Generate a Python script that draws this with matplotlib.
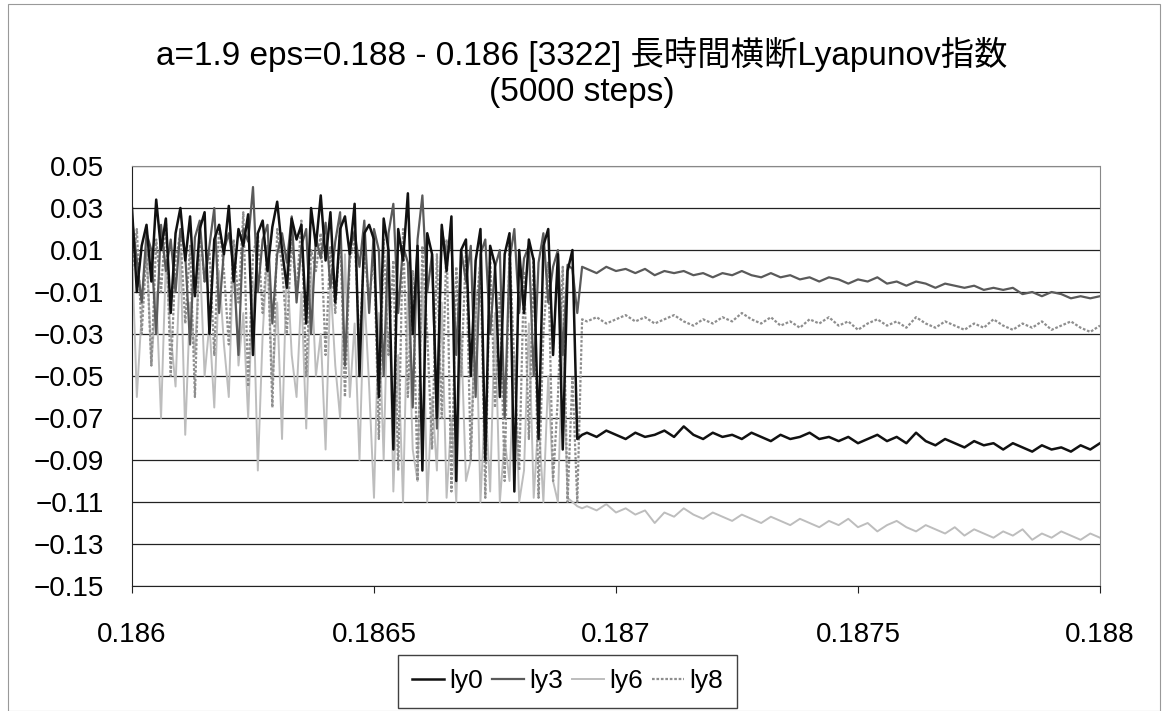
import matplotlib
matplotlib.use("Agg")
import matplotlib.pyplot as plt
import numpy as np

plt.rcParams['font.family'] = ['Liberation Sans', 'Noto Sans CJK JP', 'DejaVu Sans']

# eps range: chaotic part and settled part
eps_chaos = (0.18600, 0.18693)
eps_calm = (0.18694, 0.18800)

# --- chaotic part (0.18600 .. 0.18693) ---
ly0_chaos = [0.030, -0.010, 0.012, 0.022, -0.005, 0.034, 0.010, 0.025, -0.020, 0.018,
             0.030, 0.005, 0.026, -0.012, 0.020, 0.028, -0.030, 0.015, 0.022, 0.008,
             0.031, -0.005, 0.020, 0.012, 0.027, -0.040, 0.018, 0.024, 0.000, 0.021,
             0.033, 0.010, -0.008, 0.025, 0.015, 0.022, -0.025, 0.030, 0.012, 0.036,
             0.005, 0.028, -0.015, 0.020, 0.026, 0.008, 0.032, -0.050, 0.018, 0.022,
             0.015, -0.060, 0.025, 0.010, -0.085, 0.020, 0.005, 0.037, -0.030, 0.012,
             -0.095, 0.018, 0.008, -0.070, 0.022, 0.000, 0.026, -0.100, 0.010, 0.015,
             -0.050, 0.005, 0.020, -0.090, 0.012, 0.003, -0.060, 0.008, 0.018, -0.105,
             0.010, -0.020, 0.015, 0.005, -0.080, 0.012, 0.020, -0.040, 0.008, -0.085,
             0.000, 0.010, -0.080, -0.078]
ly3_chaos = [0.025, 0.005, -0.015, 0.018, 0.010, -0.030, 0.022, 0.000, 0.015, -0.010,
             0.020, 0.008, -0.035, 0.016, 0.024, -0.005, 0.012, 0.030, -0.020, 0.010,
             0.018, 0.002, -0.040, 0.020, 0.014, 0.040, -0.010, 0.015, 0.022, -0.025,
             0.008, 0.018, 0.004, 0.026, -0.015, 0.012, 0.020, -0.030, 0.016, 0.006,
             0.023, -0.008, 0.014, 0.028, -0.045, 0.010, 0.019, 0.002, 0.024, -0.020,
             0.020, 0.010, -0.050, 0.018, 0.032, -0.020, 0.012, 0.004, -0.065, 0.015,
             0.036, -0.010, 0.008, -0.075, 0.020, 0.006, 0.014, -0.040, 0.010, -0.005,
             0.012, -0.060, 0.008, 0.015, -0.030, 0.002, 0.010, -0.070, 0.005, 0.020,
             -0.020, 0.006, 0.012, -0.050, 0.004, 0.018, -0.015, 0.002, 0.010, -0.040,
             0.003, 0.001, -0.020, 0.002]
ly6_chaos = [0.010, -0.060, -0.020, 0.015, -0.045, -0.010, -0.070, 0.005, -0.030, -0.055,
             0.010, -0.078, -0.015, -0.040, 0.008, -0.050, -0.025, -0.065, 0.000, -0.035,
             -0.060, 0.012, -0.045, -0.020, -0.070, -0.005, -0.095, -0.030, 0.010, -0.055,
             -0.015, -0.080, 0.005, -0.040, -0.060, -0.010, -0.075, 0.002, -0.050, -0.030,
             -0.085, -0.005, -0.045, -0.070, 0.008, -0.060, -0.025, -0.090, -0.010, -0.055,
             -0.108, -0.020, -0.090, 0.005, -0.105, -0.040, -0.110, -0.010, -0.085, -0.100,
             0.000, -0.110, -0.060, -0.095, -0.015, -0.108, -0.070, -0.110, -0.030, -0.100,
             -0.090, -0.010, -0.110, -0.060, -0.105, -0.020, -0.110, -0.080, -0.100, -0.040,
             -0.110, -0.095, -0.025, -0.108, -0.070, -0.110, -0.050, -0.100, -0.110, -0.030,
             -0.108, -0.110, -0.112, -0.113]
ly8_chaos = [0.000, 0.020, -0.030, 0.010, -0.045, 0.015, -0.010, 0.025, -0.050, 0.005,
             0.018, -0.025, 0.012, -0.060, 0.020, -0.005, 0.010, -0.040, 0.022, 0.000,
             -0.035, 0.015, -0.015, 0.028, -0.055, 0.008, 0.018, -0.020, 0.012, -0.065,
             0.020, 0.002, -0.030, 0.015, -0.010, 0.024, -0.050, 0.010, 0.000, 0.018,
             -0.040, 0.012, -0.020, 0.020, -0.060, 0.005, 0.016, -0.035, 0.010, -0.015,
             0.010, -0.080, 0.015, -0.040, 0.005, -0.095, 0.020, -0.060, 0.000, -0.100,
             0.012, -0.030, -0.085, 0.008, -0.070, 0.015, -0.105, 0.002, -0.050, 0.010,
             -0.090, -0.020, 0.005, -0.108, 0.008, -0.065, -0.010, -0.100, 0.012, -0.045,
             -0.095, 0.000, -0.080, 0.006, -0.108, -0.030, 0.004, -0.100, -0.060, 0.002,
             -0.110, -0.050, -0.110, -0.023]

# --- settled part (0.18694 .. 0.18800) ---
ly0_calm = [-0.077, -0.079, -0.076, -0.078, -0.080, -0.077, -0.079, -0.078, -0.076, -0.079,
            -0.074, -0.078, -0.080, -0.077, -0.079, -0.078, -0.080, -0.077, -0.079, -0.081,
            -0.078, -0.080, -0.079, -0.077, -0.080, -0.079, -0.081, -0.079, -0.082, -0.080,
            -0.078, -0.081, -0.079, -0.082, -0.077, -0.081, -0.083, -0.080, -0.082, -0.084,
            -0.081, -0.083, -0.082, -0.085, -0.082, -0.084, -0.086, -0.083, -0.085, -0.084,
            -0.086, -0.083, -0.085, -0.082]
ly3_calm = [0.001, -0.001, 0.002, 0.000, 0.001, -0.001, 0.001, -0.002, 0.000, -0.001,
            0.000, -0.002, -0.001, -0.003, -0.001, -0.002, 0.000, -0.002, -0.003, -0.001,
            -0.003, -0.002, -0.004, -0.003, -0.005, -0.003, -0.004, -0.006, -0.004, -0.005,
            -0.003, -0.006, -0.005, -0.007, -0.005, -0.006, -0.008, -0.006, -0.007, -0.008,
            -0.007, -0.009, -0.008, -0.009, -0.008, -0.011, -0.010, -0.012, -0.010, -0.011,
            -0.013, -0.012, -0.013, -0.012]
ly6_calm = [-0.112, -0.114, -0.111, -0.115, -0.113, -0.116, -0.114, -0.120, -0.115, -0.117,
            -0.113, -0.116, -0.118, -0.115, -0.117, -0.119, -0.116, -0.118, -0.120, -0.117,
            -0.119, -0.121, -0.118, -0.120, -0.122, -0.119, -0.121, -0.118, -0.122, -0.120,
            -0.124, -0.121, -0.119, -0.122, -0.124, -0.121, -0.123, -0.125, -0.122, -0.126,
            -0.123, -0.125, -0.127, -0.124, -0.126, -0.123, -0.128, -0.125, -0.127, -0.124,
            -0.126, -0.128, -0.125, -0.127]
ly8_calm = [-0.024, -0.022, -0.025, -0.023, -0.021, -0.024, -0.022, -0.025, -0.023, -0.021,
            -0.024, -0.026, -0.023, -0.025, -0.022, -0.024, -0.020, -0.023, -0.025, -0.022,
            -0.026, -0.024, -0.027, -0.023, -0.025, -0.022, -0.026, -0.024, -0.028, -0.025,
            -0.023, -0.026, -0.024, -0.027, -0.022, -0.025, -0.027, -0.024, -0.026, -0.028,
            -0.025, -0.027, -0.023, -0.026, -0.028, -0.025, -0.027, -0.024, -0.028, -0.026,
            -0.024, -0.027, -0.029, -0.026]

series = ["ly0", "ly3", "ly6", "ly8"]
colors = {"ly0": "#111111", "ly3": "#5a5a5a", "ly6": "#bdbdbd", "ly8": "#8e8e8e"}
styles = {"ly0": "-", "ly3": "-", "ly6": "-", "ly8": (0, (1.2, 0.8))}
widths = {"ly0": 1.8, "ly3": 1.6, "ly6": 1.4, "ly8": 1.6}
data = {
    "ly0": (ly0_chaos, ly0_calm),
    "ly3": (ly3_chaos, ly3_calm),
    "ly6": (ly6_chaos, ly6_calm),
    "ly8": (ly8_chaos, ly8_calm),
}

fig = plt.figure(figsize=(11.63, 7.11), dpi=100)
ax = fig.add_axes([0.1135, 0.1758, 0.8323, 0.5907])

handles = {}
for name in ["ly6", "ly8", "ly3", "ly0"]:
    a, b = data[name]
    x = np.concatenate([np.linspace(*eps_chaos, len(a)), np.linspace(*eps_calm, len(b))])
    y = np.concatenate([a, b])
    ln, = ax.plot(x, y, color=colors[name], ls=styles[name], lw=widths[name], label=name)
    handles[name] = ln

yticks = np.arange(-0.15, 0.051, 0.02)
ax.set_xlim(0.186, 0.188)
ax.set_ylim(-0.15, 0.05)
ax.set_xticks([0.186, 0.1865, 0.187, 0.1875, 0.188])
ax.set_xticklabels(["0.186", "0.1865", "0.187", "0.1875", "0.188"])
ax.set_yticks(yticks)
ax.set_yticklabels([f"{v:.2f}".replace("-", "\u2212") for v in yticks])
ax.yaxis.grid(True, color="#222222", lw=0.9)
ax.set_axisbelow(True)
ax.tick_params(axis="both", labelsize=20, length=5, color="#222222")
ax.tick_params(axis="x", pad=21)
ax.tick_params(axis="y", length=0, pad=20)
for s in ["left", "bottom"]:
    ax.spines[s].set_color("#222222")
for s in ["top", "right"]:
    ax.spines[s].set_color("#888888")
    ax.spines[s].set_linestyle((0, (1, 1)))

fig.text(0.5, 0.898, "a=1.9 eps=0.188 - 0.186 [3322] 長時間横断Lyapunov指数\n(5000 steps)",
         ha="center", va="center", fontsize=24, linespacing=1.2)

leg = fig.legend([handles[n] for n in series], series, loc="upper center",
                 bbox_to_anchor=(0.488, 0.079), ncol=4, fontsize=19, frameon=True,
                 fancybox=False, edgecolor="#111111", handlelength=1.2,
                 handletextpad=0.2, columnspacing=0.35, borderpad=0.55, borderaxespad=0)
leg.get_frame().set_linewidth(1.0)

fig.patches.append(plt.Rectangle((0.007, 0.0), 0.99, 0.995, transform=fig.transFigure,
                                 fill=False, edgecolor="#999999", lw=0.8))

fig.savefig("out.png", dpi=100)
